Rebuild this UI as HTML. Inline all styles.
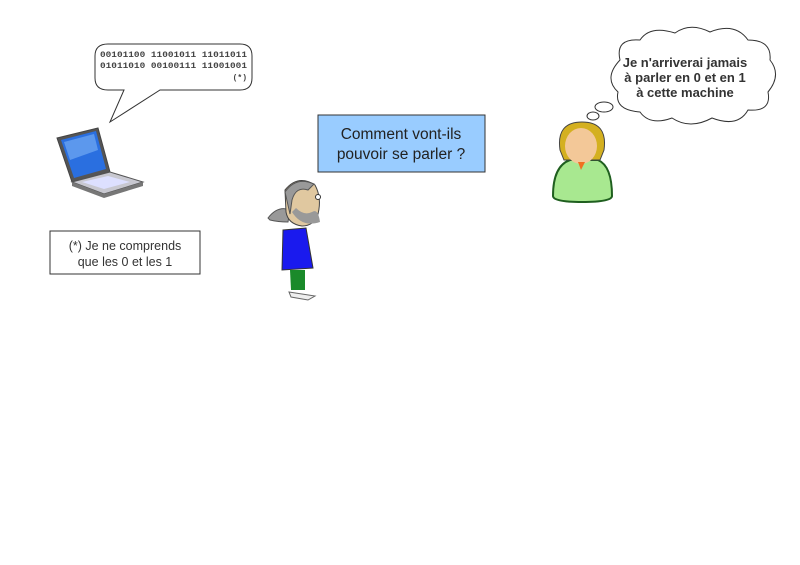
<!DOCTYPE html>
<html><head><style>body{margin:0;background:#fff}svg{display:block}</style></head><body>
<svg width="800" height="565" viewBox="0 0 800 565" xmlns="http://www.w3.org/2000/svg" font-family="Liberation Sans, sans-serif">
<rect width="800" height="565" fill="#fff"/>
<path d="M108,44 H240 Q252,44 252,56 V78 Q252,90 240,90 H160 L110,122 L124,90 H108 Q95,90 95,78 V56 Q95,44 108,44 Z" fill="#fff" stroke="#333" stroke-width="1"/>
<g font-family="Liberation Mono, monospace" font-size="8" font-weight="bold" fill="#444">
<text x="100" y="57" textLength="147" lengthAdjust="spacingAndGlyphs">00101100 11001011 11011011</text>
<text x="100" y="68" textLength="147" lengthAdjust="spacingAndGlyphs">01011010 00100111 11001001</text>
<text x="247" y="80" text-anchor="end">(*)</text>
</g>
<path d="M57,138 L98,128 L110,172 L72,182 Z" fill="#555" stroke="#444"/>
<path d="M61,140 L96,131 L106,169 L74,178 Z" fill="#2a6fe0"/>
<path d="M64,142 L94,134 L98,150 L70,160 Z" fill="#7fb4f5" opacity="0.6"/>
<path d="M72,182 L110,172 L143,182 L104,194 Z" fill="#c8c8d0" stroke="#555"/>
<path d="M82,182 L108,176 L130,182 L104,189 Z" fill="#dde0ff"/>
<path d="M72,182 L104,194 L143,182 L143,186 L104,198 L72,186 Z" fill="#777"/>
<rect x="50" y="231" width="150" height="43" fill="#fff" stroke="#333"/>
<text x="125" y="250" font-size="12.5" fill="#333" text-anchor="middle">(*) Je ne comprends</text>
<text x="125" y="266" font-size="12.5" fill="#333" text-anchor="middle">que les 0 et les 1</text>
<rect x="318" y="115" width="167" height="57" fill="#99ccff" stroke="#333"/>
<text x="401" y="139" font-size="15.5" fill="#222" text-anchor="middle">Comment vont-ils</text>
<text x="401" y="159" font-size="15.5" fill="#222" text-anchor="middle">pouvoir se parler ?</text>
<path d="M268,218 Q278,205 290,210 L288,222 Q278,222 270,220 Z" fill="#999" stroke="#555"/>
<path d="M285,190 Q298,174 315,185 Q322,198 318,214 Q314,226 302,226 Q288,224 286,212 Z" fill="#e0c8a0" stroke="#444"/>
<path d="M285,192 Q296,176 314,184 L308,190 Q296,186 292,200 L290,214 Z" fill="#999" stroke="#555"/>
<path d="M292,212 Q302,228 320,222 Q318,208 312,212 Q304,216 296,208 Z" fill="#999"/>
<circle cx="318" cy="197" r="2.5" fill="#fff" stroke="#333"/>
<path d="M283,230 L306,228 L313,268 L282,270 Z" fill="#1a1aee" stroke="#333"/>
<path d="M290,270 L305,270 L305,290 L291,290 Z" fill="#1a8a2a"/>
<path d="M289,292 L315,296 L308,300 L291,297 Z" fill="#eee" stroke="#666"/>
<path d="M553,196 Q553,166 570,160 L598,160 Q612,166 612,196 Q612,202 582,202 Q553,202 553,196 Z" fill="#a8e890" stroke="#1f5f1f" stroke-width="2"/>
<path d="M560,150 Q556,122 582,122 Q608,122 604,150 L600,160 L564,160 Z" fill="#d4b020" stroke="#444"/>
<ellipse cx="581" cy="146" rx="16" ry="18" fill="#f3c898"/>
<path d="M578,162 L585,162 L581,170 Z" fill="#f07020"/>
<path d="M620,60 Q615,38 640,40 Q650,25 675,33 Q690,22 710,32 Q735,22 748,40 Q772,40 770,60 Q782,75 768,92 Q772,112 748,110 Q738,128 712,118 Q690,130 672,118 Q650,126 640,112 Q614,110 618,92 Q603,78 620,60 Z" fill="#fff" stroke="#333"/>
<ellipse cx="604" cy="107" rx="9" ry="5" fill="#fff" stroke="#333"/>
<ellipse cx="593" cy="116" rx="6" ry="4" fill="#fff" stroke="#333"/>
<g font-size="13" font-weight="bold" fill="#333" text-anchor="middle">
<text x="685" y="67">Je n'arriverai jamais</text>
<text x="685" y="82">à parler en 0 et en 1</text>
<text x="685" y="97">à cette machine</text>
</g>
</svg>
</body></html>
